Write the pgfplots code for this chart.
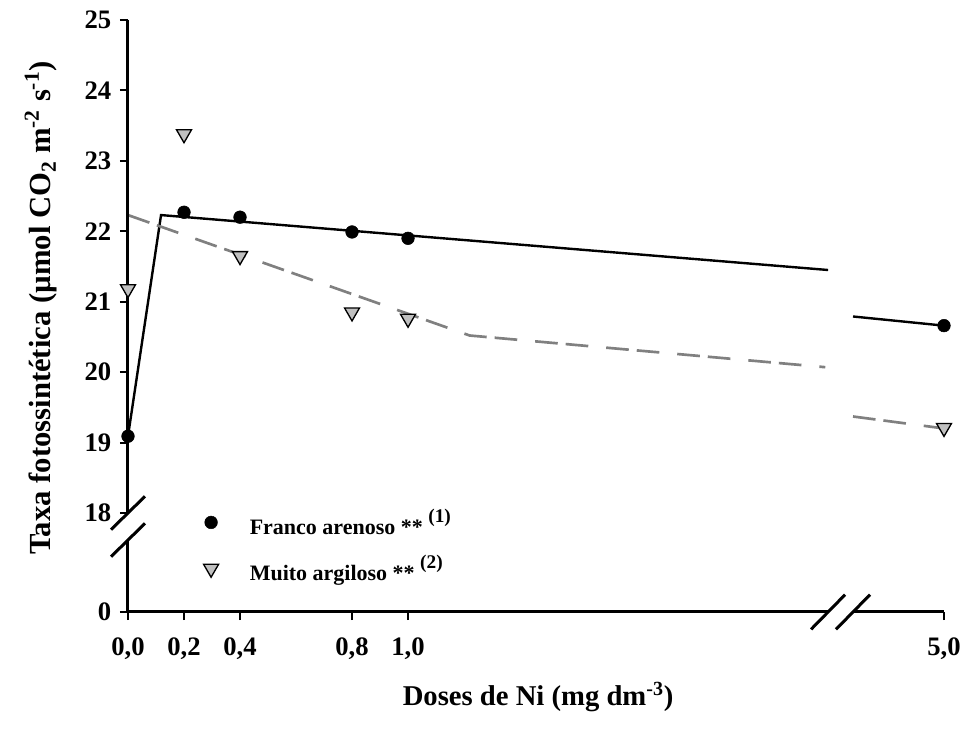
\documentclass[border=0pt]{standalone}
\usepackage{fontspec}
\setmainfont{Liberation Serif}
\usepackage{pgfplots}
\pgfplotsset{compat=1.18}
\definecolor{trigray}{HTML}{C0C0C0}
\definecolor{linegray}{HTML}{808080}
\pgfplotsset{markleg/.style={legend image code/.code={\draw[##1] plot coordinates {(0pt,0pt)}; \path[draw=none,fill=none] (-5pt,0pt) -- (27pt,0pt);}}}
\newcommand{\supx}[1]{\raisebox{0.55em}{\fontsize{14.5}{14.5}\selectfont #1}}
% Broken axes: x positions 0..1 are doses; 5,0 is drawn at 2.914 (after the break).
% y positions 18..25 are values; 0 is drawn at 16.594 (below the break).
\begin{document}
\begin{tikzpicture}
\useasboundingbox (-96pt,-89.25pt) rectangle (626.25pt,459pt);
\begin{axis}[
  at={(0,0)}, anchor=south west,
  scale only axis, width=612pt, height=444pt,
  xmin=0, xmax=2.914, ymin=16.594, ymax=25,
  axis lines=left, axis line style={draw=none},
  clip=false,
  xtick={0,0.2,0.4,0.8,1.0,2.914},
  xticklabels={{0,0},{0,2},{0,4},{0,8},{1,0},{5,0}},
  ytick={16.594,18,19,20,21,22,23,24,25},
  yticklabels={0,18,19,20,21,22,23,24,25},
  tick align=outside, major tick length=6pt,
  tick style={line width=1.5pt, black},
  tick label style={font=\bfseries\fontsize{20}{22}\selectfont},
  xticklabel style={yshift=-10pt},
  yticklabel style={xshift=-3pt},
  xlabel={\bfseries Doses de Ni (mg dm\textsuperscript{-3})},
  xlabel style={font=\fontsize{21.5}{23}\selectfont, at={(axis description cs:0.5025,-0.1436)}, anchor=center},
  ylabel={\bfseries Taxa fotossintética (µmol CO\textsubscript{2} m\textsuperscript{-2} s\textsuperscript{-1})},
  ylabel style={font=\fontsize{23}{25}\selectfont, at={(axis description cs:-0.1066,0.5135)}, anchor=center},
  legend style={draw=none, fill=none, inner sep=0pt, row sep=10pt,
    font=\bfseries\fontsize{16.5}{19}\selectfont,
    at={(axis description cs:0.0923,0.1123)}, anchor=west},
  legend cell align=left,
]
% regression lines
\addplot[black, line width=1.8pt, forget plot] coordinates {(0,19.09) (0.118,22.23) (2.5,21.45)};
\addplot[black, line width=1.8pt, forget plot] coordinates {(2.589,20.79) (2.914,20.66)};
\addplot[linegray, line width=2pt, dash pattern=on 17pt off 6pt on 17pt off 13.5pt, forget plot] coordinates {(0,22.23) (1.22,20.52) (2.49,20.07)};
\addplot[linegray, line width=2pt, dash pattern=on 17pt off 6pt on 17pt off 13.5pt, forget plot] coordinates {(2.589,19.37) (2.914,19.2)};
% data
\addplot[only marks, mark=*, mark size=4.75pt, black, markleg]
  coordinates {(0,19.09) (0.2,22.27) (0.4,22.2) (0.8,21.99) (1.0,21.9) (2.914,20.66)};
\addlegendentry{Franco arenoso ** \supx{(1)}}
\addplot[only marks, mark=triangle*, mark size=6.5pt, mark options={rotate=180, fill=trigray, draw=black, line width=1pt}, markleg]
  coordinates {(0,21.18) (0.2,23.38) (0.4,21.65) (0.8,20.85) (1.0,20.76) (2.914,19.21)};
\addlegendentry{Muito argiloso ** \supx{(2)}}
% axis lines with breaks
\draw[line width=2.25pt] (axis cs:0,25) -- (axis cs:0,18);
\draw[line width=2.25pt] (axis cs:0,17.616) -- (axis cs:0,16.594) -- (axis cs:2.5,16.594);
\draw[line width=2.25pt] (axis cs:2.589,16.594) -- (axis cs:2.914,16.594);
\draw[line width=2.25pt] ([xshift=-12.75pt,yshift=-12.5pt]axis cs:0,18) -- ([xshift=12.75pt,yshift=12.5pt]axis cs:0,18);
\draw[line width=2.25pt] ([xshift=-12.75pt,yshift=-12.5pt]axis cs:0,17.616) -- ([xshift=12.75pt,yshift=12.5pt]axis cs:0,17.616);
\draw[line width=2.25pt] ([xshift=-12.75pt,yshift=-13pt]axis cs:2.5,16.594) -- ([xshift=12.75pt,yshift=13pt]axis cs:2.5,16.594);
\draw[line width=2.25pt] ([xshift=-12.75pt,yshift=-13pt]axis cs:2.589,16.594) -- ([xshift=12.75pt,yshift=13pt]axis cs:2.589,16.594);
\end{axis}
\end{tikzpicture}
\end{document}
